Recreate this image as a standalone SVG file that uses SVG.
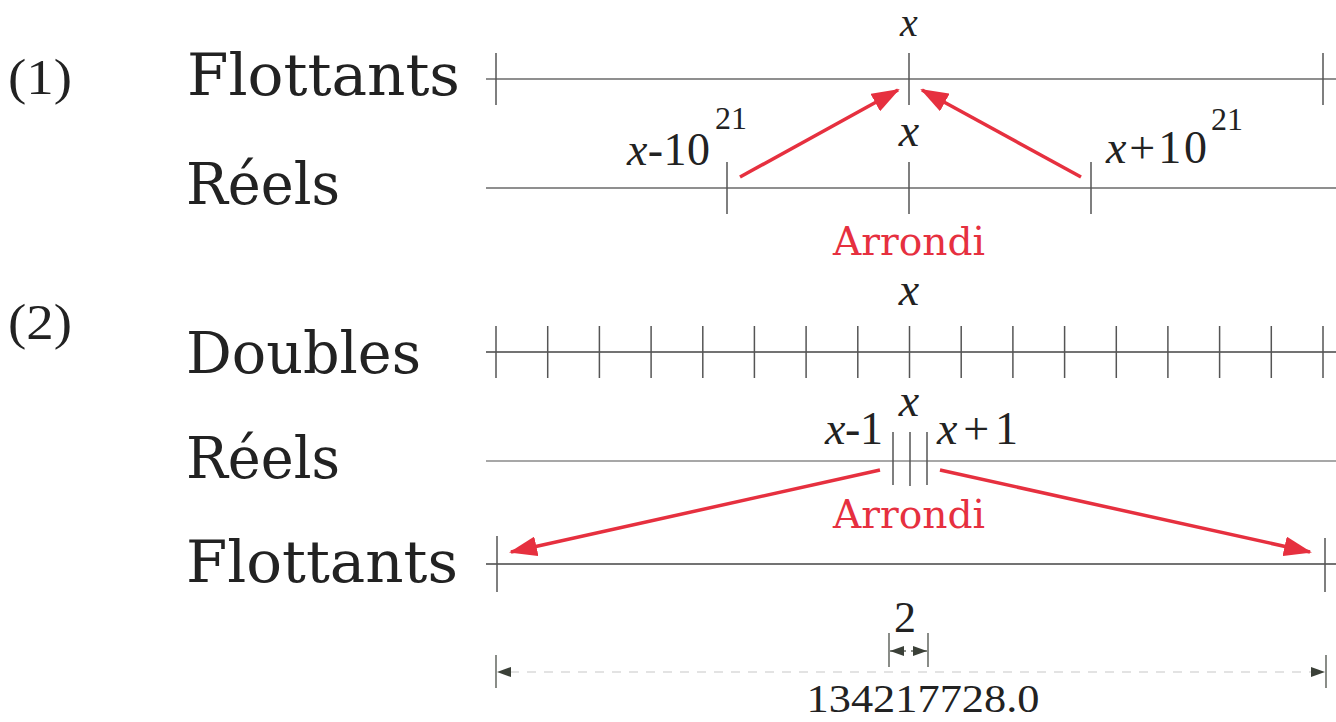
<svg xmlns="http://www.w3.org/2000/svg" width="1336" height="722" viewBox="0 0 1336 722">
<style>
.lbl{font-family:"DejaVu Serif","Liberation Serif",serif;font-size:58px;fill:#222}
.num{font-family:"Liberation Serif",serif;font-size:50px;fill:#222}
.m{font-family:"Liberation Serif",serif;font-size:46px;fill:#222}
.mi{font-style:italic}
.sup{font-family:"Liberation Serif",serif;font-size:32px;fill:#222}
.red{font-family:"DejaVu Serif","Liberation Serif",serif;font-size:40px;fill:#e6303f}
.axis{stroke:#6a6a6a;stroke-width:1.5;fill:none}
.axisd{stroke:#454545;stroke-width:1.5;fill:none}
.tick{stroke:#555;stroke-width:1.5}
.arr{stroke:#e6303f;stroke-width:3.5;fill:none}
.dim{stroke:#3b4038;stroke-width:1.2}
.dash{stroke:#c8c8c8;stroke-width:1.2;stroke-dasharray:9 8}
</style>
<defs>
<marker id="ah" viewBox="0 0 28 20" refX="26" refY="10" markerWidth="28" markerHeight="20" markerUnits="userSpaceOnUse" orient="auto">
<path d="M0,0 L28,10 L0,20 Z" fill="#e6303f"/>
</marker>
<marker id="dh" viewBox="0 0 14 10" refX="14" refY="5" markerWidth="14" markerHeight="10" markerUnits="userSpaceOnUse" orient="auto">
<path d="M0,0 L14,5 L0,10 Z" fill="#3b4038"/>
</marker>
</defs>

<g id="case1-label"><text class="num" x="8" y="94" textLength="64" lengthAdjust="spacingAndGlyphs">(1)</text></g>
<g id="case2-label"><text class="num" x="8" y="339" textLength="64" lengthAdjust="spacingAndGlyphs">(2)</text></g>

<g id="flottants1">
<text class="lbl" x="187" y="95" textLength="273" lengthAdjust="spacingAndGlyphs">Flottants</text>
<line class="axis" x1="486" y1="79" x2="1336" y2="79"/>
<line class="tick" x1="496" y1="53" x2="496" y2="105"/>
<line class="tick" x1="909" y1="53" x2="909" y2="105"/>
<line class="tick" x1="1323" y1="53" x2="1323" y2="105"/>
<text class="m mi" x="909" y="36" text-anchor="middle" style="font-size:40px">x</text>
</g>

<g id="reels1">
<text class="lbl" x="186" y="204" textLength="154" lengthAdjust="spacingAndGlyphs">Réels</text>
<line class="axis" x1="486" y1="188" x2="1336" y2="188"/>
<line class="tick" x1="727" y1="162" x2="727" y2="214"/>
<line class="tick" x1="909" y1="162" x2="909" y2="214"/>
<line class="tick" x1="1091" y1="162" x2="1091" y2="214"/>
<text class="m mi" x="909" y="146" text-anchor="middle">x</text>
<text class="m" x="627" y="165" textLength="83" lengthAdjust="spacing"><tspan class="mi">x</tspan>-10</text>
<text class="sup" x="715" y="129">21</text>
<text class="m" x="1106" y="163" textLength="101" lengthAdjust="spacing"><tspan class="mi">x</tspan>+10</text>
<text class="sup" x="1211" y="130">21</text>
<text class="red" x="909" y="255" text-anchor="middle" textLength="152" lengthAdjust="spacingAndGlyphs">Arrondi</text>
</g>

<g id="doubles">
<text class="lbl" x="186" y="373" textLength="235" lengthAdjust="spacingAndGlyphs">Doubles</text>
<line class="axisd" x1="486" y1="352" x2="1336" y2="352"/>
<g class="tick">
<line x1="496" y1="326" x2="496" y2="378"/>
<line x1="547.7" y1="326" x2="547.7" y2="378"/>
<line x1="599.4" y1="326" x2="599.4" y2="378"/>
<line x1="651.1" y1="326" x2="651.1" y2="378"/>
<line x1="702.8" y1="326" x2="702.8" y2="378"/>
<line x1="754.4" y1="326" x2="754.4" y2="378"/>
<line x1="806.1" y1="326" x2="806.1" y2="378"/>
<line x1="857.8" y1="326" x2="857.8" y2="378"/>
<line x1="909.5" y1="326" x2="909.5" y2="378"/>
<line x1="961.2" y1="326" x2="961.2" y2="378"/>
<line x1="1012.9" y1="326" x2="1012.9" y2="378"/>
<line x1="1064.6" y1="326" x2="1064.6" y2="378"/>
<line x1="1116.3" y1="326" x2="1116.3" y2="378"/>
<line x1="1167.9" y1="326" x2="1167.9" y2="378"/>
<line x1="1219.6" y1="326" x2="1219.6" y2="378"/>
<line x1="1271.3" y1="326" x2="1271.3" y2="378"/>
<line x1="1323" y1="326" x2="1323" y2="378"/>
</g>
<text class="m mi" x="909" y="305" text-anchor="middle">x</text>
</g>

<g id="reels2">
<text class="lbl" x="186" y="478" textLength="154" lengthAdjust="spacingAndGlyphs">Réels</text>
<line class="axis" x1="486" y1="461" x2="1336" y2="461" style="stroke:#8a8a8a"/>
<line class="tick" x1="893" y1="432" x2="893" y2="485"/>
<line class="tick" x1="910" y1="432" x2="910" y2="486"/>
<line class="tick" x1="927" y1="432" x2="927" y2="485"/>
<text class="m mi" x="909" y="416" text-anchor="middle">x</text>
<text class="m" x="825" y="444" textLength="58" lengthAdjust="spacing"><tspan class="mi">x</tspan>-1</text>
<text class="m" x="937" y="444" textLength="81" lengthAdjust="spacing"><tspan class="mi">x</tspan>+1</text>
<text class="red" x="909" y="528" text-anchor="middle" textLength="152" lengthAdjust="spacingAndGlyphs">Arrondi</text>
</g>

<g id="flottants2">
<text class="lbl" x="186" y="582" textLength="272" lengthAdjust="spacingAndGlyphs">Flottants</text>
<line class="axisd" x1="486" y1="564" x2="1336" y2="564"/>
<line class="tick" x1="497" y1="536" x2="497" y2="592"/>
<line class="tick" x1="1325" y1="538" x2="1325" y2="592"/>
</g>

<g id="connectors">
<line class="arr" x1="740" y1="177" x2="898" y2="90" marker-end="url(#ah)"/>
<line class="arr" x1="1081" y1="177" x2="922" y2="90" marker-end="url(#ah)"/>
<line class="arr" x1="880" y1="470" x2="511" y2="552" marker-end="url(#ah)"/>
<line class="arr" x1="940" y1="470" x2="1310" y2="552" marker-end="url(#ah)"/>
</g>

<g id="dimensions">
<line class="dim" x1="889" y1="633" x2="889" y2="667"/>
<line class="dim" x1="928" y1="633" x2="928" y2="667"/>
<line class="dim" x1="906" y1="651" x2="890" y2="651" marker-end="url(#dh)"/>
<line class="dim" x1="911" y1="651" x2="927" y2="651" marker-end="url(#dh)"/>
<text class="num" x="905" y="632" text-anchor="middle" style="font-size:44px">2</text>
<line class="dim" x1="496" y1="655" x2="496" y2="688"/>
<line class="dim" x1="1326" y1="655" x2="1326" y2="688"/>
<line class="dash" x1="510" y1="672" x2="1312" y2="672"/>
<line class="dim" x1="515" y1="672" x2="497" y2="672" marker-end="url(#dh)" style="stroke:none"/>
<line class="dim" x1="1307" y1="672" x2="1325" y2="672" marker-end="url(#dh)" style="stroke:none"/>
<text class="num" x="923" y="712" text-anchor="middle" style="font-size:41px" textLength="233" lengthAdjust="spacingAndGlyphs">134217728.0</text>
</g>
</svg>
